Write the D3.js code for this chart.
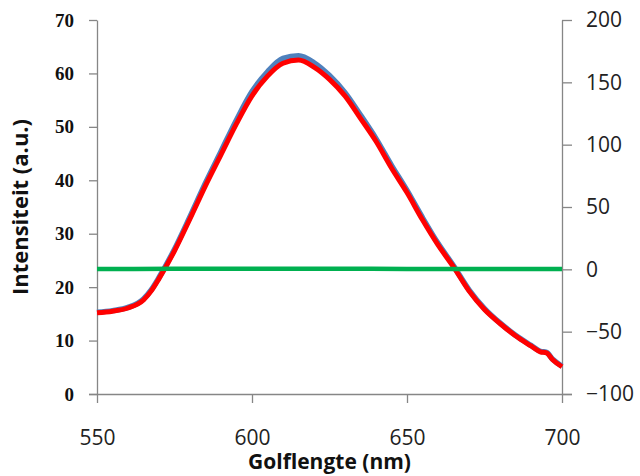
<!DOCTYPE html>
<html>
<head>
<meta charset="utf-8">
<script src="https://cdn.jsdelivr.net/npm/d3@7/dist/d3.min.js"></script>
<style>
  body { margin: 0; background: #fff; }
  .axis path, .axis line { stroke: #868686; stroke-width: 1.3; }
</style>
</head>
<body>
<div id="chart"></div>
<script>
// wavelengths (nm)
var wavelength = [550, 555, 560, 565, 567.5, 570, 575, 580, 585, 590, 595, 600, 605, 610, 615,
                  620, 625, 630, 635, 640, 645, 650, 655, 660, 665, 670, 675, 680, 685,
                  690, 693, 695, 697, 700];
// red series (left axis)
var redVals = [15.2, 15.5, 16.1, 17.6, 19.3, 21.6, 26.8, 32.8, 39.0, 44.8, 50.6, 55.8, 59.5, 61.9, 62.5,
               61.2, 58.9, 55.8, 51.6, 47.3, 42.3, 37.7, 32.6, 27.9, 23.8, 19.3, 15.8, 13.2, 10.9,
               9.0, 7.9, 7.7, 6.4, 5.1];
// blue series (left axis), sits just above the red one
var blueVals = [15.3, 15.6, 16.2, 17.8, 19.5, 21.8, 27.1, 33.2, 39.5, 45.4, 51.3, 56.6, 60.3, 62.8, 63.3,
                62.0, 59.6, 56.4, 52.2, 47.8, 42.8, 38.1, 33.0, 28.2, 24.0, 19.5, 16.0, 13.3, 11.0,
                9.1, 8.0, 7.8, 6.5, 5.2];
// green series (right axis)
var greenWl = [550, 575, 600, 625, 650, 675, 700];
var greenVals = [0.2, 0.4, 0.5, 0.5, 0.3, 0.2, 0.2];

var leftTicks = [0, 10, 20, 30, 40, 50, 60, 70];
var rightTicks = [-100, -50, 0, 50, 100, 150, 200];
var xTicks = [550, 600, 650, 700];

var W = 640, H = 476;
var margin = {top: 20, right: 78, bottom: 82, left: 97};

var svg = d3.select("#chart").append("svg")
            .attr("width", W)
            .attr("height", H);

var x = d3.scaleLinear().domain([550, 700]).range([margin.left, W - margin.right]);
var yL = d3.scaleLinear().domain([0, 70]).range([H - margin.bottom, margin.top]);
var yR = d3.scaleLinear().domain([-100, 200]).range([H - margin.bottom, margin.top]);

/***** axes ******/
var gx = svg.append("g")
    .attr("class", "axis")
    .attr("transform", "translate(0," + (H - margin.bottom) + ")")
    .call(d3.axisBottom(x).tickValues(xTicks).tickSize(9).tickSizeOuter(0).tickFormat(d3.format("d")));
gx.select(".domain").attr("d", "M" + (margin.left - 8) + ",0.5H" + (W - margin.right + 10));
gx.selectAll("text")
  .attr("dy", 0)
  .attr("y", 51)
  .style("font-family", "'Open Sans', sans-serif")
  .style("font-size", "21px")
  .style("fill", "#222");

var gl = svg.append("g")
    .attr("class", "axis")
    .attr("transform", "translate(" + margin.left + ",0)")
    .call(d3.axisLeft(yL).tickValues(leftTicks).tickSize(8).tickSizeOuter(0));
gl.selectAll("text")
  .attr("x", -23)
  .style("font-family", "'Liberation Serif', serif")
  .style("font-weight", "bold")
  .style("font-size", "19px")
  .style("fill", "#111");

var gr = svg.append("g")
    .attr("class", "axis")
    .attr("transform", "translate(" + (W - margin.right) + ",0)")
    .call(d3.axisRight(yR).tickValues(rightTicks).tickSize(10).tickSizeOuter(0));
gr.selectAll("text")
  .attr("x", 24)
  .style("font-family", "'Open Sans', sans-serif")
  .style("font-size", "21px")
  .style("fill", "#222");

/***** axis titles ******/
svg.append("text")
   .attr("transform", "translate(28," + ((margin.top + H - margin.bottom) / 2) + ") rotate(-90)")
   .attr("text-anchor", "middle")
   .style("font-family", "'Open Sans', sans-serif")
   .style("font-weight", "bold")
   .style("font-size", "22px")
   .style("fill", "#111")
   .text("Intensiteit (a.u.)");

svg.append("text")
   .attr("x", (margin.left + W - margin.right) / 2)
   .attr("y", 469)
   .attr("text-anchor", "middle")
   .style("font-family", "'Open Sans', sans-serif")
   .style("font-weight", "bold")
   .style("font-size", "21px")
   .style("fill", "#111")
   .text("Golflengte (nm)");

/***** lines ******/
var lineL = d3.line()
    .x(function(d) { return x(d[0]); })
    .y(function(d) { return yL(d[1]); })
    .curve(d3.curveMonotoneX);
var lineR = d3.line()
    .x(function(d) { return x(d[0]); })
    .y(function(d) { return yR(d[1]); })
    .curve(d3.curveMonotoneX);

svg.append("path")
   .datum(d3.zip(wavelength, blueVals))
   .attr("fill", "none")
   .attr("stroke", "#4F81BD")
   .attr("stroke-width", 5.5)
   .attr("d", lineL);

svg.append("path")
   .datum(d3.zip(wavelength, redVals))
   .attr("fill", "none")
   .attr("stroke", "#FF0000")
   .attr("stroke-width", 5)
   .attr("d", lineL);

svg.append("path")
   .datum(d3.zip(greenWl, greenVals))
   .attr("fill", "none")
   .attr("stroke", "#00B050")
   .attr("stroke-width", 4.5)
   .attr("d", lineR);
</script>
</body>
</html>
